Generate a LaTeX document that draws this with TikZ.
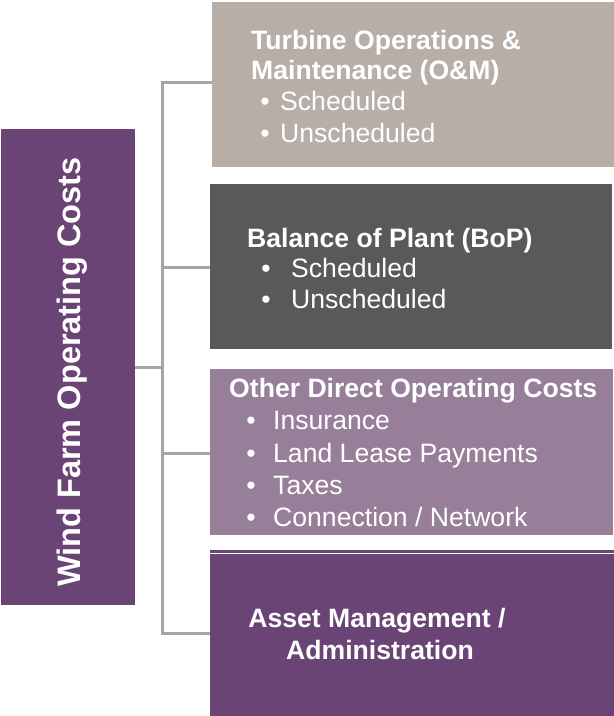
\documentclass[tikz,border=0pt]{standalone}
\usepackage{fontspec}
\setmainfont{Liberation Sans}
\definecolor{cmain}{HTML}{6A4475}
\definecolor{cone}{HTML}{B7AEA8}
\definecolor{ctwo}{HTML}{59595B}
\definecolor{cthree}{HTML}{977F9A}
\definecolor{cfour}{HTML}{6A4475}
\definecolor{linegray}{HTML}{A6A6A6}
\begin{document}
\begin{tikzpicture}[x=1pt,y=-1pt,
  box/.style={draw=none, inner sep=0pt, outer sep=0pt, anchor=north west},
  conn/.style={draw=linegray, line width=3pt},
  head/.style={anchor=base west, inner sep=0pt, text=white, font=\fontsize{26.6}{31}\selectfont\bfseries},
  headc/.style={anchor=base, inner sep=0pt, text=white, font=\fontsize{26.6}{31}\selectfont\bfseries},
  item/.style={anchor=base west, inner sep=0pt, text=white, font=\fontsize{26.6}{31}\selectfont},
  bul/.style={anchor=base, inner sep=0pt, text=white, font=\fontsize{26.6}{31}\selectfont}]
\useasboundingbox (0,0) rectangle (614,716);
\fill[white] (0,0) rectangle (614,716);
% boxes
\node[box, fill=cmain, minimum width=134pt, minimum height=476pt] (main) at (1,129) {};
\node[box, fill=cone, minimum width=402pt, minimum height=165pt] (b1) at (212,2) {};
\node[box, fill=ctwo, minimum width=402pt, minimum height=165pt] (b2) at (210,184) {};
\node[box, fill=cthree, minimum width=403pt, minimum height=166pt] (b3) at (210,369) {};
\node[box, fill=cfour, minimum width=404pt, minimum height=166pt] (b4) at (210,550) {};
\draw[white, line width=0.8pt] (210,553) -- (614,553);
% connectors
\coordinate (s1) at (162,82);
\coordinate (s2) at (162,267);
\coordinate (s3) at (162,453);
\coordinate (s4) at (162,633);
\draw[conn] (s1 -| b1.west) -- (s1) -- (s4) -- (s4 -| b4.west);
\draw[conn] (s2) -- (s2 -| b2.west);
\draw[conn] (s3) -- (s3 -| b3.west);
\draw[conn] (main.east) -- (main.east -| s1);
% main label
\node[rotate=90, anchor=base, inner sep=0pt, text=white, font=\fontsize{32.5}{38}\selectfont\bfseries] (mt) at (80,372) {Wind Farm Operating Costs};
% box 1
\node[head] (t1a) at (251,49.5) {Turbine Operations \&};
\node[head] (t1b) at (251,79.5) {Maintenance (O\&M)};
\node[bul] (p1a) at (265,110.5) {•};
\node[item] (t1c) at (280,110.5) {Scheduled};
\node[bul] (p1b) at (265,142.5) {•};
\node[item] (t1d) at (280,142.5) {Unscheduled};
% box 2
\node[head] (t2a) at (247,247.5) {Balance of Plant (BoP)};
\node[bul] (p2a) at (266,277.5) {•};
\node[item] (t2b) at (291,277.5) {Scheduled};
\node[bul] (p2b) at (266,308.5) {•};
\node[item] (t2c) at (291,308.5) {Unscheduled};
% box 3
\node[head] (t3a) at (229,397.5) {Other Direct Operating Costs};
\node[bul] (p3a) at (251,429.5) {•};
\node[item] (t3b) at (273,429.5) {Insurance};
\node[bul] (p3b) at (251,462.5) {•};
\node[item] (t3c) at (273,462.5) {Land Lease Payments};
\node[bul] (p3c) at (251,494.5) {•};
\node[item] (t3d) at (273,494.5) {Taxes};
\node[bul] (p3d) at (251,526.5) {•};
\node[item] (t3e) at (273,526.5) {Connection / Network};
% box 4
\node[headc] (t4a) at (377,627.5) {Asset Management /};
\node[headc] (t4b) at (380,659.5) {Administration};
\end{tikzpicture}
\end{document}
